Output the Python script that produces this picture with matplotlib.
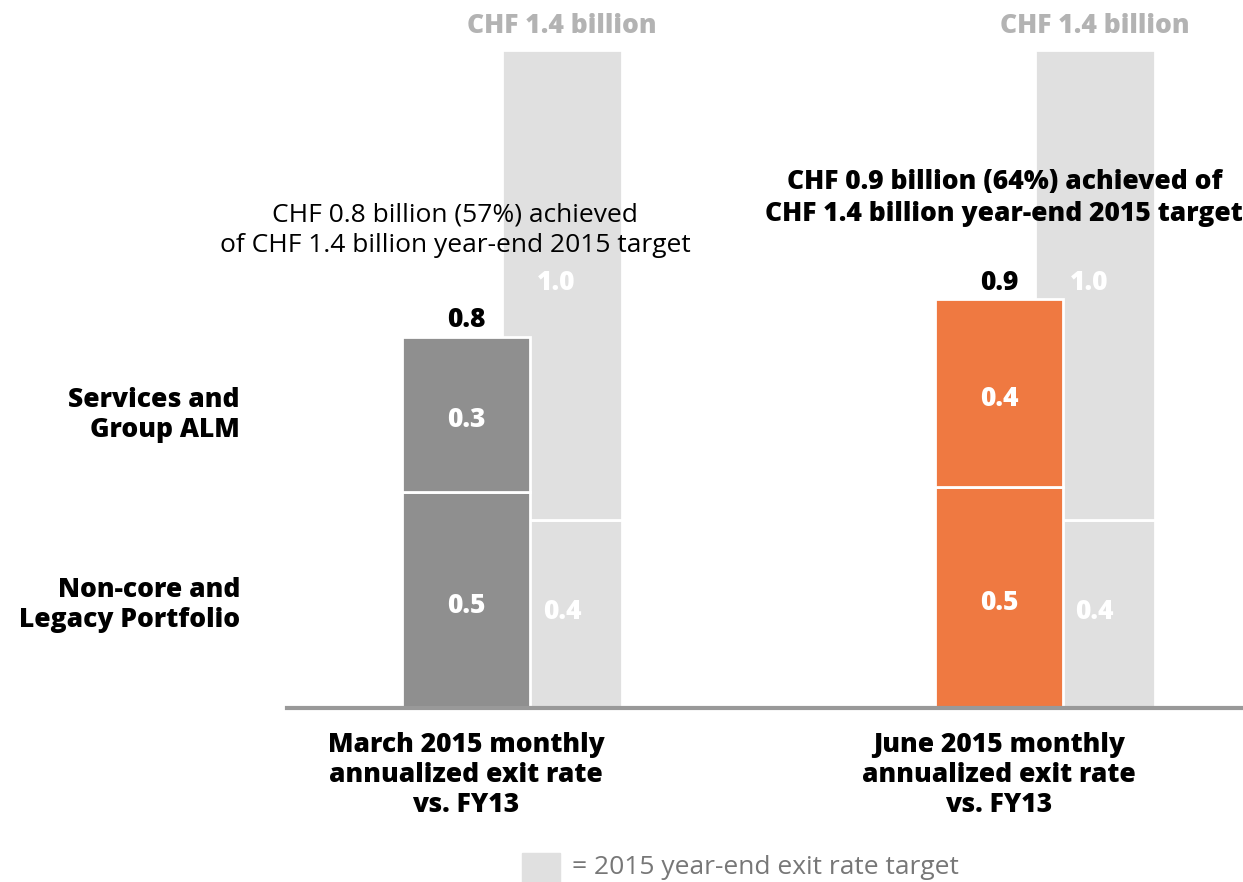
import matplotlib
matplotlib.use("Agg")
import matplotlib.pyplot as plt
import numpy as np

plt.rcParams['font.family'] = ['Open Sans', 'DejaVu Sans']

periods = ["March 2015 monthly\nannualized exit rate\nvs. FY13",
           "June 2015 monthly\nannualized exit rate\nvs. FY13"]
noncore = [0.46, 0.47]      # Non-core and Legacy Portfolio
services = [0.33, 0.40]     # Services and Group ALM
target_low = [0.4, 0.4]
target_high = [1.0, 1.0]
target_total = 1.4
notes = ["CHF 0.8 billion (57%) achieved\nof CHF 1.4 billion year-end 2015 target",
         "CHF 0.9 billion (64%) achieved of\nCHF 1.4 billion year-end 2015 target"]
segment_names = ["Services and\nGroup ALM", "Non-core and\nLegacy Portfolio"]

bar_colors = ["#8f8f8f", "#ef7941"]
target_color = "#e0e0e0"
HEAVY = 800

W, H = 1243, 882
fig = plt.figure(figsize=(W / 100, H / 100), dpi=100)
ax = fig.add_axes([287 / W, (H - 708) / H, 956 / W, 705 / H])

x = np.arange(len(periods))
off = 0.18
bw, tw = 0.24, 0.225

# target bars sit behind the actual bars
ax.bar(x + off, target_low, tw, color=target_color, edgecolor="white", linewidth=2, zorder=1)
ax.bar(x + off, target_high, tw, bottom=target_low, color=target_color,
       edgecolor="white", linewidth=2, zorder=1)

for i in x:
    ax.bar(i, noncore[i], bw, color=bar_colors[i], edgecolor="white", linewidth=2, zorder=2)
    ax.bar(i, services[i], bw, bottom=noncore[i], color=bar_colors[i],
           edgecolor="white", linewidth=2, zorder=2)
    bold = dict(fontsize=19, fontweight=HEAVY, ha="center", va="center", zorder=3)
    ax.text(i, noncore[i] / 2 - 0.012, f"{noncore[i]:.1f}", color="white", **bold)
    ax.text(i, noncore[i] + services[i] / 2 - 0.012, f"{services[i]:.1f}", color="white", **bold)
    total = noncore[i] + services[i]
    ax.text(i, total + 0.035, f"{total:.1f}", color="black", **bold)
    ax.text(i + off, target_low[i] / 2 + 0.005, f"{target_low[i]:.1f}", color="white", **bold)
    ax.text(i + off - 0.01, 0.905, f"{target_high[i]:.1f}", color="white", **bold)
    ax.text(i + off, target_total + 0.052, f"CHF {target_total:.1f} billion", color="#b3b3b3",
            fontsize=19, fontweight=HEAVY, ha="center", va="center")
    ax.text(i, -0.05, periods[i], fontsize=19, fontweight=HEAVY, ha="center", va="top",
            linespacing=1.2)

ax.text(-0.02, 1.016, notes[0], fontsize=19, ha="center", va="center", linespacing=1.3, zorder=4)
ax.text(1.01, 1.085, notes[1], fontsize=19, fontweight=HEAVY, ha="center", va="center",
        linespacing=1.3, zorder=4)

ax.set_xlim(-0.336, 1.458)
ax.set_ylim(0, 1.5)
for s in ["top", "right", "left"]:
    ax.spines[s].set_visible(False)
ax.spines["bottom"].set_color("#999999")
ax.spines["bottom"].set_linewidth(3)
ax.set_xticks([])
ax.set_yticks([])
ax.patch.set_alpha(0)

# segment names on the left
fig.text(240 / W, 1 - 415 / H, segment_names[0], fontsize=19, fontweight=HEAVY,
         ha="right", va="center", linespacing=1.2)
fig.text(240 / W, 1 - 605 / H, segment_names[1], fontsize=19, fontweight=HEAVY,
         ha="right", va="center", linespacing=1.2)

# legend swatch
fig.patches.append(plt.Rectangle((522 / W, 0), 38 / W, 29 / H, color=target_color,
                                 transform=fig.transFigure, figure=fig))
fig.text(572 / W, 1 - 868 / H, "= 2015 year-end exit rate target", fontsize=19,
         color="#777777", ha="left", va="center")

fig.savefig("out.png", dpi=100)
